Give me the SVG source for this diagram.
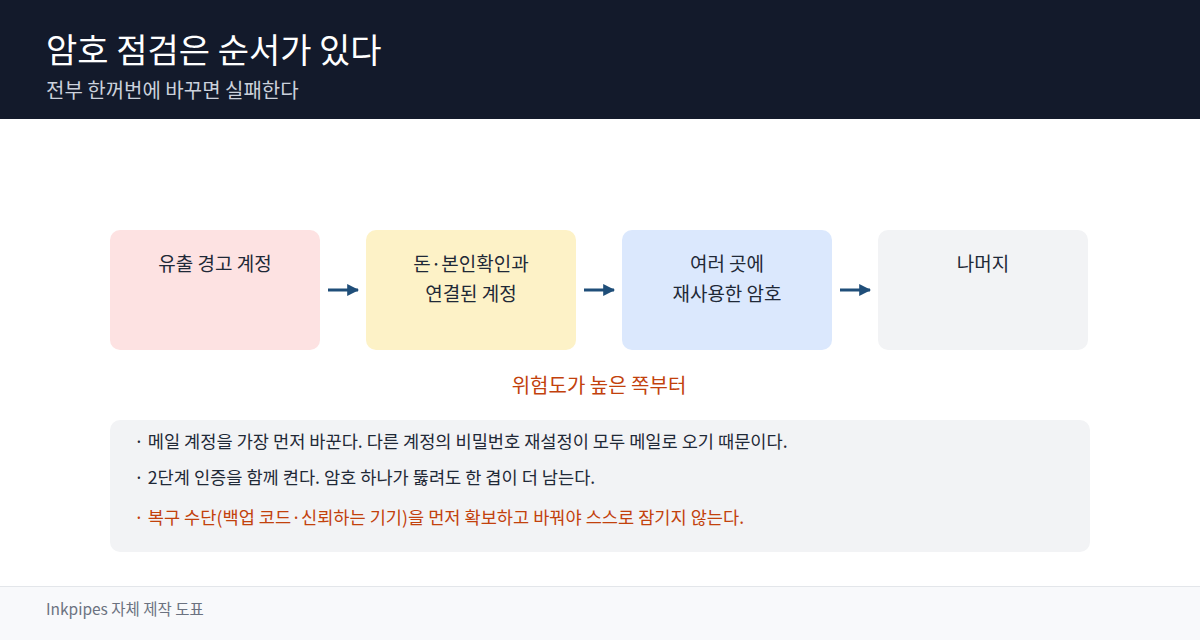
<svg xmlns="http://www.w3.org/2000/svg" width="1200" height="640" viewBox="0 0 1200 640">
<defs>
<style>
text{font-family:"Noto Sans CJK KR","Noto Sans",sans-serif;}
.node{stroke:none;}
.nt{font-size:19px;fill:#1f2937;text-anchor:middle;}
.bl{font-size:17.6px;fill:#1f2937;}
.bl-warn{font-size:17.6px;fill:#c2410c;}
.conn{stroke:#1f4e79;stroke-width:3;fill:none;marker-end:url(#ah);}
</style>
<marker id="ah" viewBox="0 0 10 10" refX="9" refY="5" markerWidth="4" markerHeight="4" orient="auto" markerUnits="strokeWidth">
<path d="M0,0 L10,5 L0,10 z" fill="#1f4e79"/>
</marker>
</defs>
<rect x="0" y="0" width="1200" height="640" fill="#ffffff"/>
<rect x="0" y="0" width="1200" height="119" fill="#131a2b"/>
<text x="46" y="63" font-size="34" fill="#ffffff">암호 점검은 순서가 있다</text>
<text x="46" y="98" font-size="20" fill="#cbd1dc">전부 한꺼번에 바꾸면 실패한다</text>

<g id="node1"><rect class="node" x="110" y="230" width="210" height="120" rx="10" fill="#fde2e2"/><text class="nt" x="215" y="271">유출 경고 계정</text></g>
<g id="node2"><rect class="node" x="366" y="230" width="210" height="120" rx="10" fill="#fdf2c7"/><text class="nt" x="471" y="271">돈·본인확인과</text><text class="nt" x="471" y="301">연결된 계정</text></g>
<g id="node3"><rect class="node" x="622" y="230" width="210" height="120" rx="10" fill="#dbe8fd"/><text class="nt" x="727" y="271">여러 곳에</text><text class="nt" x="727" y="301">재사용한 암호</text></g>
<g id="node4"><rect class="node" x="878" y="230" width="210" height="120" rx="10" fill="#f2f3f5"/><text class="nt" x="983" y="271">나머지</text></g>

<g id="connectors">
<line class="conn" x1="328" y1="290" x2="358" y2="290"/>
<line class="conn" x1="584" y1="290" x2="614" y2="290"/>
<line class="conn" x1="840" y1="290" x2="870" y2="290"/>
</g>

<text x="599" y="393" font-size="20" fill="#c2410c" text-anchor="middle">위험도가 높은 쪽부터</text>

<g id="notes">
<rect x="110" y="420" width="980" height="132" rx="10" fill="#f2f3f5"/>
<text class="bl" x="134" y="448">· 메일 계정을 가장 먼저 바꾼다. 다른 계정의 비밀번호 재설정이 모두 메일로 오기 때문이다.</text>
<text class="bl" x="134" y="484">· 2단계 인증을 함께 켠다. 암호 하나가 뚫려도 한 겹이 더 남는다.</text>
<text class="bl-warn" x="134" y="524">· 복구 수단(백업 코드·신뢰하는 기기)을 먼저 확보하고 바꿔야 스스로 잠기지 않는다.</text>
</g>

<rect x="0" y="586" width="1200" height="54" fill="#f8f9fb"/>
<line x1="0" y1="586.5" x2="1200" y2="586.5" stroke="#e3e6ea" stroke-width="1"/>
<text x="46" y="615" font-size="15.5" fill="#6b7280">Inkpipes 자체 제작 도표</text>
</svg>
